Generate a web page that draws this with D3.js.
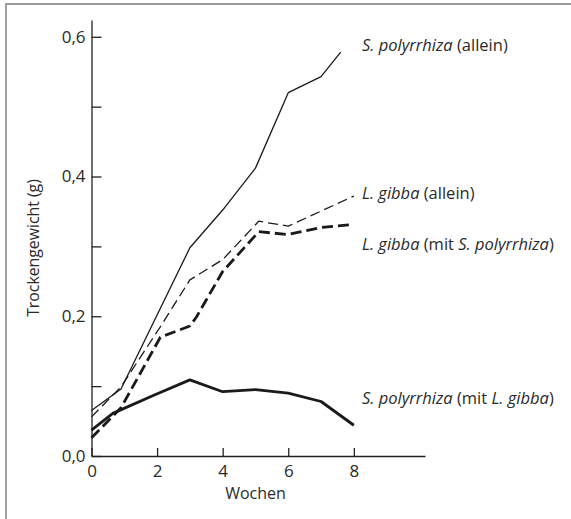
<!DOCTYPE html>
<html>
<head>
<meta charset="utf-8">
<script src="https://cdn.jsdelivr.net/npm/d3@7"></script>
<style>
  html, body { margin: 0; padding: 0; background: #fff; }
  svg { display: block; }
  text { font-family: "Open Sans", "Noto Sans", sans-serif; fill: #2a2a2a; }
</style>
</head>
<body>
<svg id="chart" width="571" height="519"></svg>
<script>
// ---- data (weeks, dry weight in g) ----
const spAloneWeeks  = [0, 0.9, 3, 4, 5, 6, 7, 7.6];
const spAloneValues = [0.065, 0.096, 0.298, 0.352, 0.412, 0.520, 0.543, 0.578];

const lgAloneWeeks  = [0, 0.9, 2.1, 3, 4, 5.1, 6, 8];
const lgAloneValues = [0.056, 0.099, 0.185, 0.252, 0.281, 0.336, 0.329, 0.372];

const lgMixWeeks  = [0, 0.9, 2.1, 3, 3.2, 4, 5.1, 6, 7, 7.9];
const lgMixValues = [0.026, 0.069, 0.170, 0.186, 0.199, 0.264, 0.321, 0.317, 0.327, 0.331];

const spMixWeeks  = [0, 0.65, 1.9, 3, 4, 5, 6, 7, 8];
const spMixValues = [0.037, 0.061, 0.087, 0.109, 0.092, 0.095, 0.090, 0.078, 0.044];

const xTickValues = [0, 2, 4, 6, 8];
const yTickValues = [0, 0.1, 0.2, 0.3, 0.4, 0.5, 0.6];
const yLabelValues = [0, 0.2, 0.4, 0.6];

const labels = [
  { italic: "S. polyrrhiza", rest: [" (allein)"] },
  { italic: "L. gibba", rest: [" (allein)"] },
  { italic: "L. gibba", rest: [" (mit ", "S. polyrrhiza", ")"] },
  { italic: "S. polyrrhiza", rest: [" (mit ", "L. gibba", ")"] }
];
const labelBaselines = [51, 199, 250, 404];

const xTitle = "Wochen";
const yTitle = "Trockengewicht (g)";

// ---- chart ----
const svg = d3.select("#chart");

// frame
svg.append("path")
  .attr("d", "M6,519 V4 H571")
  .attr("fill", "none").attr("stroke", "#777").attr("stroke-width", 1.4);

const x = d3.scaleLinear().domain([0, 10.17]).range([91.5, 425]);
const y = d3.scaleLinear().domain([0, 0.624]).range([456, 20]);

// x axis
const xAxis = svg.append("g").attr("transform", `translate(0,${y(0)})`)
  .call(d3.axisBottom(x).tickValues(xTickValues).tickSize(-8).tickSizeOuter(0).tickPadding(9)
    .tickFormat(d => d));
xAxis.select(".domain").attr("stroke", "#222").attr("stroke-width", 1.3);
xAxis.selectAll(".tick line").attr("stroke", "#222").attr("stroke-width", 1.3);
xAxis.selectAll("text").attr("font-size", 17).attr("fill", "#2a2a2a")
  .attr("font-family", '"Open Sans", sans-serif');

// y axis
const fmt = d => d.toFixed(1).replace(".", ",");
const yAxis = svg.append("g").attr("transform", `translate(${x(0)},0)`)
  .call(d3.axisLeft(y).tickValues(yTickValues).tickSize(-10).tickSizeOuter(0).tickPadding(6)
    .tickFormat(d => yLabelValues.some(v => Math.abs(v - d) < 1e-9) ? fmt(d) : ""));
yAxis.select(".domain").attr("stroke", "#222").attr("stroke-width", 1.3);
yAxis.selectAll(".tick line").attr("stroke", "#222").attr("stroke-width", 1.3);
yAxis.selectAll("text").attr("font-size", 17).attr("fill", "#2a2a2a")
  .attr("font-family", '"Open Sans", sans-serif');

// titles
svg.append("text").attr("x", x(5)).attr("y", 499).attr("text-anchor", "middle")
  .attr("font-size", 16).text(xTitle);
svg.append("text").attr("transform", `translate(39,248) rotate(-90)`)
  .attr("text-anchor", "middle").attr("font-size", 15.8).text(yTitle);

// lines
const line = d3.line().x(d => x(d[0])).y(d => y(d[1]));
const zip = (a, b) => a.map((v, i) => [v, b[i]]);
const series = [
  { pts: zip(spAloneWeeks, spAloneValues), w: 1.3, dash: null },
  { pts: zip(lgAloneWeeks, lgAloneValues), w: 1.3, dash: "10,5" },
  { pts: zip(lgMixWeeks, lgMixValues), w: 2.8, dash: "11,5" },
  { pts: zip(spMixWeeks, spMixValues), w: 2.8, dash: null }
];
svg.selectAll("path.series").data(series).join("path")
  .attr("class", "series")
  .attr("d", d => line(d.pts))
  .attr("fill", "none")
  .attr("stroke", "#1a1a1a")
  .attr("stroke-width", d => d.w)
  .attr("stroke-dasharray", d => d.dash)
  .attr("stroke-linejoin", "round");

// series labels
labels.forEach((l, i) => {
  const t = svg.append("text").attr("x", 362).attr("y", labelBaselines[i]).attr("font-size", 16.5);
  t.append("tspan").attr("font-style", "italic").text(l.italic);
  l.rest.forEach((s, j) => {
    t.append("tspan").attr("font-style", j === 1 ? "italic" : "normal").text(s);
  });
});
</script>
</body>
</html>
